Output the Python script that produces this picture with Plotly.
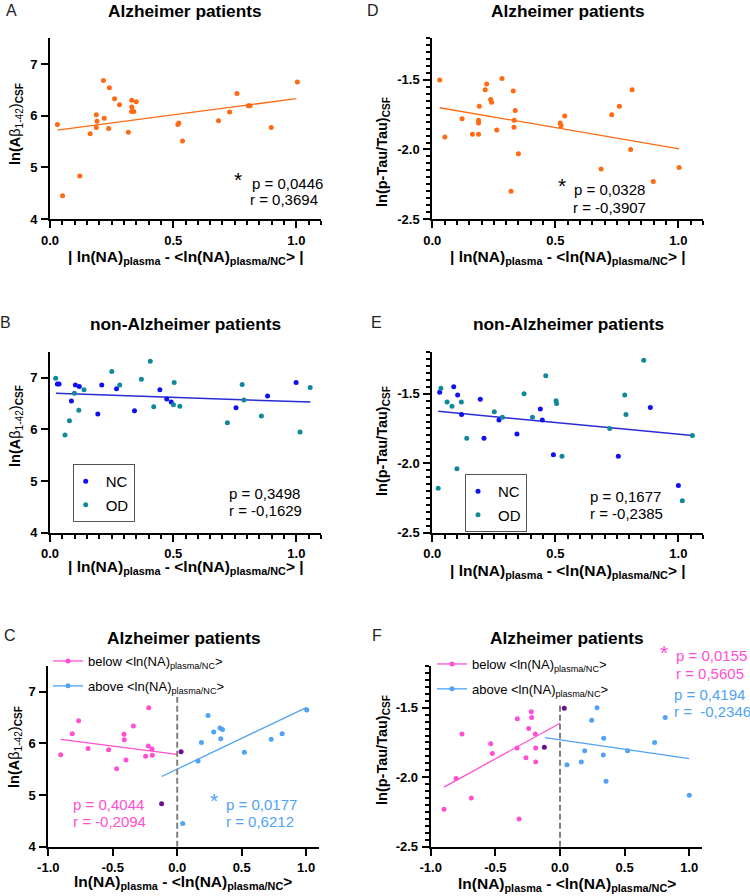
#!/usr/bin/env python3

"""Six scatter panels: CSF biomarkers against plasma NA deviation"""

import plotly.graph_objects

W, H = 750, 896
FONT = "Liberation Sans, Arial, Helvetica, sans-serif"

ORANGE = "#ff6a13"
NC_BLUE = "#1010f0"
OD_TEAL = "#12899b"
PINK = "#ff4fd3"
LIGHT_BLUE = "#4fa3f6"
PURPLE = "#6b0f8e"
DASH_GREY = "#808080"

# --- panel A: Alzheimer, |deviation| vs ln(Abeta 1-42)
a_x = [0.030, 0.051, 0.121, 0.163, 0.188, 0.191, 0.188, 0.217, 0.220, 0.238,
       0.241, 0.262, 0.282, 0.318, 0.332, 0.332, 0.331, 0.340, 0.350, 0.519,
       0.523, 0.538, 0.684, 0.729, 0.759, 0.805, 0.812, 0.898, 1.004]
a_y = [5.83, 4.45, 4.83, 5.65, 6.02, 5.89, 5.77, 6.68, 5.95, 5.75,
       6.54, 6.33, 6.21, 5.68, 6.30, 6.17, 6.08, 6.08, 6.27, 5.83,
       5.86, 5.51, 5.90, 6.07, 6.43, 6.19, 6.19, 5.77, 6.65]
a_fit_x = [0.03, 1.0]
a_fit_y = [5.72, 6.33]

# --- panel D: Alzheimer, |deviation| vs ln(p-Tau/Tau)
d_x = [0.030, 0.051, 0.121, 0.163, 0.188, 0.188, 0.188, 0.191, 0.215, 0.221,
       0.237, 0.241, 0.262, 0.283, 0.320, 0.329, 0.333, 0.332, 0.337, 0.350,
       0.520, 0.523, 0.538, 0.686, 0.729, 0.760, 0.806, 0.812, 0.898, 1.003]
d_y = [-1.50, -1.91, -1.78, -1.89, -1.79, -1.81, -1.89, -1.69, -1.57, -1.53,
       -1.64, -1.66, -1.86, -1.49, -2.30, -1.58, -1.79, -1.84, -1.72, -2.03,
       -1.81, -1.83, -1.76, -2.14, -1.75, -1.69, -2.00, -1.57, -2.23, -2.13]
d_fit_x = [0.03, 1.003]
d_fit_y = [-1.70, -1.995]

# --- panel B: non-Alzheimer, NC and OD groups
b_nc_x = [0.030, 0.037, 0.087, 0.103, 0.119, 0.194, 0.210, 0.270, 0.343, 0.446,
          0.474, 0.492, 0.755, 0.883, 0.999]
b_nc_y = [6.88, 6.88, 6.55, 6.86, 6.83, 6.30, 6.86, 6.79, 6.36, 6.77,
          6.59, 6.53, 6.42, 6.65, 6.91]
b_od_x = [0.023, 0.061, 0.079, 0.099, 0.117, 0.138, 0.251, 0.283, 0.371, 0.407,
          0.421, 0.501, 0.504, 0.527, 0.720, 0.780, 0.787, 0.858, 1.015, 1.056]
b_od_y = [6.99, 5.89, 6.17, 6.70, 6.37, 6.77, 7.12, 6.86, 6.97, 7.32,
          6.44, 6.48, 6.91, 6.45, 6.13, 6.87, 6.57, 6.26, 5.95, 6.81]
b_fit_x = [0.024, 1.057]
b_fit_y = [6.70, 6.53]

# --- panel E: non-Alzheimer, NC and OD groups
e_nc_x = [0.030, 0.087, 0.103, 0.119, 0.195, 0.210, 0.271, 0.344, 0.439, 0.447,
          0.492, 0.756, 0.886, 1.000]
e_nc_y = [-1.49, -1.45, -1.51, -1.65, -1.54, -1.82, -1.69, -1.79, -1.61, -1.69,
          -1.94, -1.95, -1.60, -2.16]
e_od_x = [0.024, 0.035, 0.060, 0.080, 0.100, 0.118, 0.140, 0.252, 0.285, 0.373,
          0.407, 0.461, 0.503, 0.505, 0.527, 0.721, 0.782, 0.787, 0.859, 1.016,
          1.057]
e_od_y = [-2.18, -1.46, -1.56, -1.59, -2.04, -1.56, -1.82, -1.63, -1.67, -1.50,
          -1.67, -1.37, -1.55, -1.57, -1.95, -1.75, -1.51, -1.65, -1.26, -2.27,
          -1.80]
e_fit_x = [0.024, 1.057]
e_fit_y = [-1.627, -1.800]

# --- panel C: Alzheimer, signed deviation vs ln(Abeta 1-42)
c_below_x = [-0.904, -0.814, -0.765, -0.692, -0.532, -0.470, -0.413, -0.410,
             -0.397, -0.340, -0.245, -0.224, -0.221, -0.195, -0.193]
c_below_y = [5.78, 6.19, 6.44, 5.90, 5.88, 5.51, 6.18, 6.07,
             5.68, 6.34, 5.75, 5.95, 6.69, 5.89, 5.77]
c_mid_x = [-0.121, 0.030]
c_mid_y = [4.83, 5.84]
c_above_x = [0.043, 0.162, 0.188, 0.239, 0.283, 0.332, 0.338, 0.351, 0.521,
             0.729, 0.814, 1.005]
c_above_y = [4.45, 5.66, 6.02, 6.54, 6.22, 6.30, 6.09, 6.27, 5.83,
             6.08, 6.19, 6.65]
c_below_fit_x = [-0.904, 0.0]
c_below_fit_y = [6.08, 5.79]
c_above_fit_x = [-0.12, 1.005]
c_above_fit_y = [5.36, 6.70]
c_mean_line = [4.0, 6.9]

# --- panel F: Alzheimer, signed deviation vs ln(p-Tau/Tau)
f_below_x = [-0.897, -0.804, -0.758, -0.686, -0.536, -0.523, -0.330, -0.332,
             -0.317, -0.263, -0.242, -0.222, -0.219, -0.191, -0.188, -0.188]
f_below_y = [-2.23, -2.01, -1.69, -2.15, -1.76, -1.83, -1.58, -1.79,
             -2.30, -1.86, -1.65, -1.53, -1.57, -1.69, -1.79, -1.89]
f_mid_x = [-0.121, 0.033]
f_mid_y = [-1.785, -1.504]
f_above_x = [0.054, 0.165, 0.191, 0.245, 0.286, 0.338, 0.335, 0.356, 0.523,
             0.732, 0.814, 1.000]
f_above_y = [-1.91, -1.89, -1.81, -1.59, -1.50, -1.72, -1.84, -2.03, -1.81,
             -1.75, -1.57, -2.13]
f_below_fit_x = [-0.897, 0.0]
f_below_fit_y = [-2.071, -1.612]
f_above_fit_x = [-0.116, 1.0]
f_above_fit_y = [-1.716, -1.867]
f_mean_line = [-2.5, -1.476]

# tick labels (plain hyphen minus, as in the original)
abs_ticks = [0.0, 0.5, 1.0]
abs_ticktext = ["0.0", "0.5", "1.0"]
signed_ticks = [-1.0, -0.5, 0.0, 0.5, 1.0]
signed_ticktext = ["-1.0", "-0.5", "0.0", "0.5", "1.0"]
ab_ticks = [4, 5, 6, 7]
ab_ticktext = ["4", "5", "6", "7"]
tau_ticks = [-2.5, -2.0, -1.5]
tau_ticktext = ["-2.5", "-2.0", "-1.5"]


def px(x):
    return x / W


def py(y):
    return 1 - y / H


def axis(dom, rng, tickvals, ticktext, minor_step):
    ax = {
        "domain": dom,
        "range": rng,
        "automargin": False,
        "showline": True,
        "linewidth": 2,
        "linecolor": "black",
        "showgrid": False,
        "zeroline": False,
        "ticks": "outside",
        "ticklen": 7,
        "tickwidth": 2,
        "tickcolor": "black",
        "tickvals": tickvals,
        "ticktext": ["<b>%s</b>" % t for t in ticktext],
        "tickfont": {"family": FONT, "size": 13, "color": "black"},
        "ticklabelstandoff": 1,
        "fixedrange": True,
    }
    if minor_step:
        ax["minor"] = {
            "dtick": minor_step,
            "tick0": 0,
            "ticks": "outside",
            "ticklen": 4,
            "tickwidth": 1.5,
            "tickcolor": "black",
            "showgrid": False,
        }
    return ax


def dots(x, y, color, ax, name=None, legend=None):
    return plotly.graph_objects.Scatter(
        x=x, y=y, mode="markers", xaxis="x" + ax, yaxis="y" + ax,
        marker={"size": 5, "color": color},
        name=name, showlegend=legend is not None, legend=legend,
        legendgroup=name,
    )


def fit(x, y, color, ax, width=1.3):
    return plotly.graph_objects.Scatter(
        x=x, y=y, mode="lines", xaxis="x" + ax, yaxis="y" + ax,
        line={"color": color, "width": width}, showlegend=False,
    )


def key(color, ax, name, legend):
    # legend-only entry: line with a dot, as drawn by the original software
    return plotly.graph_objects.Scatter(
        x=[None], y=[None], mode="lines+markers", xaxis="x" + ax, yaxis="y" + ax,
        line={"color": color, "width": 1.3}, marker={"size": 5, "color": color},
        name=name, legend=legend, legendgroup=name,
    )


figure = plotly.graph_objects.Figure()

# A
figure.add_trace(dots(a_x, a_y, ORANGE, ""))
figure.add_trace(fit(a_fit_x, a_fit_y, ORANGE, ""))
# D
figure.add_trace(dots(d_x, d_y, ORANGE, "2"))
figure.add_trace(fit(d_fit_x, d_fit_y, ORANGE, "2"))
# B
figure.add_trace(fit(b_fit_x, b_fit_y, "#2a2ad6", "3", 1.5))
figure.add_trace(dots(b_nc_x, b_nc_y, NC_BLUE, "3", "NC", "legend"))
figure.add_trace(dots(b_od_x, b_od_y, OD_TEAL, "3", "OD", "legend"))
# E
figure.add_trace(fit(e_fit_x, e_fit_y, "#2a2ad6", "4", 1.5))
figure.add_trace(dots(e_nc_x, e_nc_y, NC_BLUE, "4", "NC", "legend2"))
figure.add_trace(dots(e_od_x, e_od_y, OD_TEAL, "4", "OD", "legend2"))
# C
below_name = "below &lt;ln(NA)<sub>plasma/NC</sub>&gt;"
above_name = "above &lt;ln(NA)<sub>plasma/NC</sub>&gt;"
figure.add_trace(fit(c_below_fit_x, c_below_fit_y, PINK, "5"))
figure.add_trace(fit(c_above_fit_x, c_above_fit_y, LIGHT_BLUE, "5"))
figure.add_trace(dots(c_below_x, c_below_y, PINK, "5"))
figure.add_trace(dots(c_above_x, c_above_y, LIGHT_BLUE, "5"))
figure.add_trace(dots(c_mid_x, c_mid_y, PURPLE, "5"))
figure.add_trace(key(PINK, "5", below_name, "legend3"))
figure.add_trace(key(LIGHT_BLUE, "5", above_name, "legend3"))
# F
figure.add_trace(fit(f_below_fit_x, f_below_fit_y, PINK, "6"))
figure.add_trace(fit(f_above_fit_x, f_above_fit_y, LIGHT_BLUE, "6"))
figure.add_trace(dots(f_below_x, f_below_y, PINK, "6"))
figure.add_trace(dots(f_above_x, f_above_y, LIGHT_BLUE, "6"))
figure.add_trace(dots(f_mid_x, f_mid_y, PURPLE, "6"))
figure.add_trace(key(PINK, "6", below_name, "legend4"))
figure.add_trace(key(LIGHT_BLUE, "6", above_name, "legend4"))

# dashed line at the NC mean (x = 0)
for ax, ends in (("5", c_mean_line), ("6", f_mean_line)):
    figure.add_shape(
        type="line", xref="x" + ax, yref="y" + ax,
        x0=0, x1=0, y0=ends[0], y1=ends[1],
        line={"color": DASH_GREY, "width": 2, "dash": "6px,3px"},
    )

A_LEFT, A_RIGHT, A_BOTTOM, A_TOP = 50, 321, 219, 38.2

left_x = [px(A_LEFT), px(A_RIGHT)]
right_x = [px(432.3), px(703)]
row1 = [py(A_BOTTOM), py(A_TOP)]
row2 = [py(532.7), py(352)]
row3 = [py(846.7), py(666)]

layout_axes = {
    "xaxis": axis(left_x, [0, 1.1], abs_ticks, abs_ticktext, 0.05),
    "yaxis": axis(row1, [4, 7.5], ab_ticks, ab_ticktext, None),
    "xaxis2": axis(right_x, [0, 1.1], abs_ticks, abs_ticktext, 0.05),
    "yaxis2": axis(row1, [-2.5, -1.2], tau_ticks, tau_ticktext, 0.05),
    "xaxis3": axis(left_x, [0, 1.1], abs_ticks, abs_ticktext, 0.05),
    "yaxis3": axis(row2, [4, 7.5], ab_ticks, ab_ticktext, None),
    "xaxis4": axis(right_x, [0, 1.1], abs_ticks, abs_ticktext, 0.05),
    "yaxis4": axis(row2, [-2.5, -1.2], tau_ticks, tau_ticktext, 0.05),
    "xaxis5": axis([px(48.3), px(319)], [-1, 1.1], signed_ticks, signed_ticktext, None),
    "yaxis5": axis(row3, [4, 7.5], ab_ticks, ab_ticktext, None),
    "xaxis6": axis([px(430.7), px(702.2)], [-1, 1.1], signed_ticks, signed_ticktext, None),
    "yaxis6": axis(row3, [-2.5, -1.2], tau_ticks, tau_ticktext, 0.05),
}
for n in range(2, 7):
    layout_axes["xaxis%d" % n]["anchor"] = "y%d" % n
    layout_axes["yaxis%d" % n]["anchor"] = "x%d" % n

annotations = []


def note(x, y, text, size=15, color="black", bold=False, xanchor="center", angle=0):
    # positions are page pixels, expressed against panel A's axis domain so
    # that text running past the page edge does not push the margins
    annotations.append({
        "xref": "x domain", "yref": "y domain",
        "x": (x - A_LEFT) / (A_RIGHT - A_LEFT),
        "y": (A_BOTTOM - y) / (A_BOTTOM - A_TOP),
        "text": text, "showarrow": False, "textangle": angle,
        "xanchor": xanchor, "yanchor": "middle",
        "font": {"family": FONT, "size": size, "color": color,
                 "weight": "bold" if bold else "normal"},
    })


# panel letters
for letter, x, y in (("A", 11, 10), ("D", 372.5, 10), ("B", 5, 323),
                     ("E", 376.5, 323), ("C", 10, 636), ("F", 377, 636)):
    note(x, y, letter, size=16, color="#222222")

# panel titles
for title, x, y in (("Alzheimer patients", 185, 11), ("Alzheimer patients", 568, 11),
                    ("non-Alzheimer patients", 185.5, 324), ("non-Alzheimer patients", 568, 324),
                    ("Alzheimer patients", 184, 638), ("Alzheimer patients", 567, 638)):
    note(x, y, title, size=17.3, bold=True)

ab_title = "<b>ln(A</b>β<sub>1-42</sub>)<b><sub>CSF</sub></b>"
tau_title = "<b>ln(p-Tau/Tau)<sub>CSF</sub></b>"
for text, x, y in ((ab_title, 16, 124), (ab_title, 16, 426), (ab_title, 15, 747),
                   (tau_title, 383, 152), (tau_title, 383, 441), (tau_title, 383, 750)):
    note(x, y, text, size=14.5, angle=-90)

abs_title = "<b>| ln(NA)<sub>plasma</sub> - &lt;ln(NA)<sub>plasma/NC</sub>&gt; |</b>"
signed_title = "<b>ln(NA)<sub>plasma</sub> - &lt;ln(NA)<sub>plasma/NC</sub>&gt;</b>"
for text, x, y in ((abs_title, 186, 258), (abs_title, 567.5, 258),
                   (abs_title, 186, 568), (abs_title, 568, 571.7),
                   (signed_title, 183, 883), (signed_title, 566.7, 885)):
    note(x, y, text, size=15.5)

# statistics
note(238.3, 180, "*", size=21)
note(250, 183.3, "p = 0,0446", xanchor="left")
note(248, 200, "r = 0,3694", xanchor="left")

note(561.7, 186, "*", size=21)
note(571.7, 190, "p = 0,0328", xanchor="left")
note(571, 207.7, "r = -0,3907", xanchor="left")

note(227, 494, "p = 0,3498", xanchor="left")
note(227, 510.7, "r = -0,1629", xanchor="left")

note(588, 497, "p = 0,1677", xanchor="left")
note(588, 514, "r = -0,2385", xanchor="left")

note(71, 805, "p = 0,4044", color=PINK, xanchor="left")
note(71, 822, "r = -0,2094", color=PINK, xanchor="left")
note(214.3, 801, "*", size=21, color=LIGHT_BLUE)
note(224, 805, "p = 0,0177", color=LIGHT_BLUE, xanchor="left")
note(224, 822, "r = 0,6212", color=LIGHT_BLUE, xanchor="left")

note(663.7, 653, "*", size=21, color=PINK)
note(674, 656, "p = 0,0155", color=PINK, xanchor="left")
note(674, 674, "r = 0,5605", color=PINK, xanchor="left")
note(672, 694.3, "p = 0,4194", color=LIGHT_BLUE, xanchor="left")
note(672, 711.7, "r =\u00a0 -0,2346", color=LIGHT_BLUE, xanchor="left")

box_legend = {
    "bgcolor": "white", "bordercolor": "#555555", "borderwidth": 1,
    "font": {"family": FONT, "size": 15, "color": "black"},
    "xanchor": "left", "yanchor": "top", "itemwidth": 30,
    "indentation": -8, "traceorder": "grouped", "tracegroupgap": 1,
}
line_legend = {
    "bgcolor": "rgba(0,0,0,0)", "borderwidth": 0,
    "font": {"family": FONT, "size": 13, "color": "black"},
    "xanchor": "left", "yanchor": "top", "itemwidth": 30,
    "traceorder": "grouped", "tracegroupgap": 5,
}

figure.update_layout(
    width=W,
    height=H,
    margin={"l": 0, "r": 0, "t": 0, "b": 0, "autoexpand": False},
    paper_bgcolor="white",
    plot_bgcolor="white",
    font={"family": FONT, "color": "black"},
    annotations=annotations,
    legend=dict(box_legend, x=px(72.7), y=py(464)),
    legend2=dict(box_legend, x=px(465), y=py(474)),
    legend3=dict(line_legend, x=px(48), y=py(646)),
    legend4=dict(line_legend, x=px(432), y=py(649)),
    **layout_axes,
)

# the page's default body margin would shift the figure by 8 px
figure.write_html(
    "out.html",
    config={"displayModeBar": False},
    post_script="document.body.style.margin = '0px';",
)
